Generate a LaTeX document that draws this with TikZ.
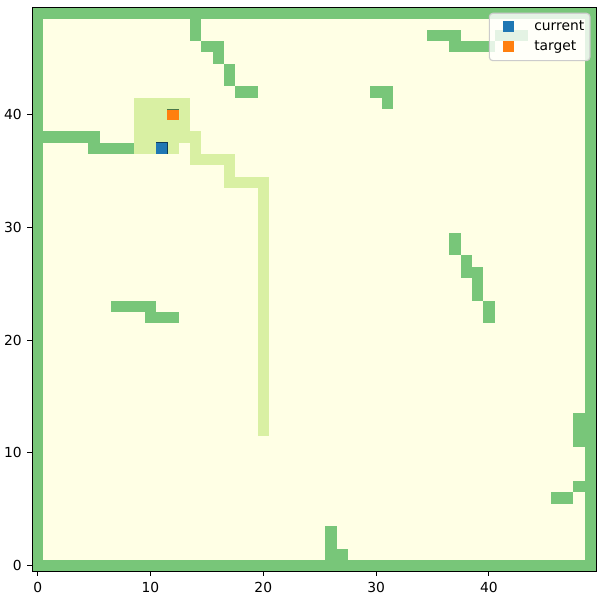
\documentclass[tikz,border=0pt]{standalone}
\usepackage{fontspec}
\setmainfont{DejaVu Sans}
\definecolor{obst}{RGB}{120,198,121}
\definecolor{cream}{RGB}{255,255,229}
\definecolor{visit}{RGB}{217,240,163}
\definecolor{mblue}{RGB}{31,119,180}
\definecolor{morange}{RGB}{255,127,14}
\definecolor{leggray}{RGB}{204,204,204}
\tikzset{
  obstfill/.style={fill=obst},
  visitfill/.style={fill=visit},
  ticklab/.style={inner sep=0pt, font=\fontsize{10}{12}\selectfont},
  legtext/.style={inner sep=0pt, anchor=base west, font=\fontsize{10}{12}\selectfont},
  tickline/.style={line width=0.8pt},
}
\begin{document}
\begin{tikzpicture}[x=8.152pt,y=8.152pt]
\useasboundingbox (-3.342,-3.041) rectangle (49.85,50.15);
% grid: border and interior
\fill[obstfill] (-0.5,-0.5) rectangle (49.5,49.5);
\fill[cream] (0.5,0.5) rectangle (48.5,48.5);
% obstacles
\foreach \a/\b/\c/\d in {14/47/14/48, 15/46/16/46, 16/45/16/45, 17/43/17/44, 18/42/19/42,
  1/38/5/38, 5/37/8/37, 7/23/10/23, 10/22/12/22, 35/47/37/47, 41/47/43/47, 37/46/40/46,
  30/42/31/42, 31/41/31/41, 37/28/37/29, 38/26/38/27, 39/24/39/26, 40/22/40/23,
  48/11/48/13, 48/7/48/7, 46/6/47/6, 26/1/26/3, 27/1/27/1}
  \fill[obstfill] (\a-0.5,\b-0.5) rectangle (\c+0.5,\d+0.5);
% visited / path cells
\foreach \a/\b/\c/\d in {9/39/13/41, 9/38/14/38, 9/37/12/37, 14/37/14/37, 14/36/17/36,
  17/35/17/35, 17/34/20/34, 20/12/20/33}
  \fill[visitfill] (\a-0.5,\b-0.5) rectangle (\c+0.5,\d+0.5);
% markers
\fill[morange] (12-0.51,40-0.51) rectangle (12+0.51,40+0.51);
\draw[line width=0.6pt, color=obst!60!black] (12-0.51,40+0.48) -- (12+0.51,40+0.48);
\fill[mblue] (11-0.51,37-0.51) rectangle (11+0.51,37+0.51);
\draw[line width=0.6pt, color=mblue!50!black] (11-0.51,37+0.48) -- (11+0.48,37+0.48) -- (11+0.48,37-0.51);
% frame
\draw[line width=0.8pt] (-0.5,-0.5) rectangle (49.5,49.5);
% ticks
\foreach \t in {0,10,20,30,40} {
  \draw[tickline] (\t,-0.5) -- (\t,-0.931);
  \node[ticklab, anchor=north] (xl\t) at (\t,-1.40) {\t};
  \draw[tickline] (-0.5,\t) -- (-0.931,\t);
  \node[ticklab, anchor=east] (yl\t) at (-1.40,\t) {\t};
}
% legend
\draw[draw=leggray, line width=0.8pt, fill=white, fill opacity=0.8, rounded corners=2.5pt]
  (40.04,44.77) rectangle (48.96,48.97);
\fill[mblue] (41.72-0.51,47.80-0.51) rectangle (41.72+0.51,47.80+0.51);
\fill[morange] (41.72-0.51,46.01-0.51) rectangle (41.72+0.51,46.01+0.51);
\node[legtext] (lcur) at (44.0,47.43) {current};
\node[legtext] (ltar) at (44.0,45.64) {target};
\end{tikzpicture}
\end{document}
